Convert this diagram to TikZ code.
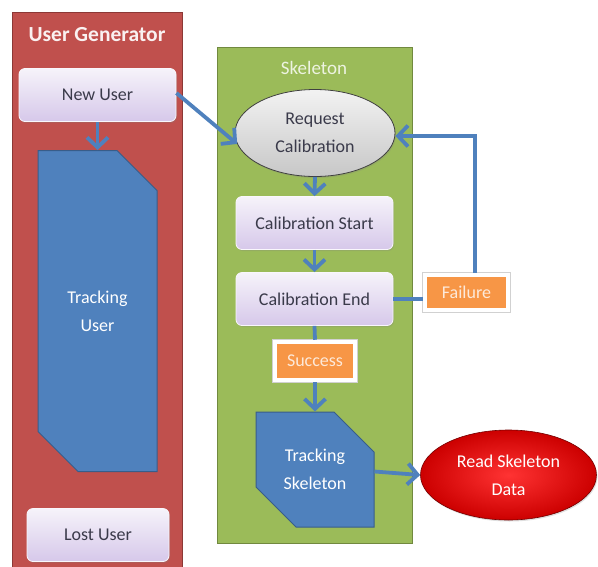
\documentclass[tikz,border=0pt]{standalone}
\usepackage{fontspec}
\setmainfont{Carlito}
\usetikzlibrary{arrows.meta,shapes.geometric,shapes.misc,shadows}
\definecolor{panelred}{HTML}{C0504D}
\definecolor{panelredline}{HTML}{8C3836}
\definecolor{panelgreen}{HTML}{9BBB59}
\definecolor{panelgreenline}{HTML}{71893F}
\definecolor{flowblue}{HTML}{4F81BD}
\definecolor{flowblueline}{HTML}{385D8A}
\definecolor{tagorange}{HTML}{F79646}
\definecolor{tagtext}{HTML}{FDE9D9}
\definecolor{boxtext}{HTML}{3A3A4A}
\definecolor{lavtop}{HTML}{F6F3FA}
\definecolor{lavbot}{HTML}{D6C8EA}
\begin{document}
\begin{tikzpicture}[x=1pt,y=-1pt,
  panel/.style={rectangle, line width=1.2pt, inner sep=0pt, anchor=north west},
  stepbox/.style={rectangle, rounded corners=6pt, draw=white!85!lavbot, line width=0.8pt,
    top color=lavtop, bottom color=lavbot, text=boxtext, font=\fontsize{18}{22}\selectfont,
    minimum width=157pt, minimum height=53pt, inner sep=0pt, drop shadow={opacity=0.25, shadow xshift=1pt, shadow yshift=-1.5pt}},
  tracker/.style={chamfered rectangle, chamfered rectangle corners={north east,south west},
    chamfered rectangle xsep=20pt, chamfered rectangle ysep=20pt, fill=flowblue,
    draw=flowblueline, line width=1pt, text=white, align=center, inner sep=0pt,
    font=\fontsize{18}{28}\selectfont},
  tag/.style={rectangle, fill=tagorange, draw=white, line width=4.5pt, text=tagtext,
    font=\fontsize{18}{22}\selectfont, inner sep=0pt,
    preaction={draw=black!18, line width=6pt},
    drop shadow={opacity=0.3, shadow xshift=1.5pt, shadow yshift=-1.5pt}},
  flow/.style={draw=flowblue, line width=3.8pt, -{Straight Barb[length=10pt,width=21pt]}},
  link/.style={draw=flowblue, line width=3.8pt},
  title/.style={font=\bfseries\fontsize{21.5}{25}\selectfont}
]
\useasboundingbox (0,0) rectangle (598,566);

% the two component panels
\begin{scope}
\clip (0,0) rectangle (598,566);
\node[panel, fill=panelred, draw=panelredline, minimum width=170pt, minimum height=560pt] (ugpanel) at (12,12) {};
\end{scope}
\node[panel, fill=panelgreen, draw=panelgreenline, minimum width=195pt, minimum height=496pt] (skpanel) at (217,47) {};
\node[title, text=white!92!panelred] (ugtitle) at (97,35) {User Generator};
\node[font=\fontsize{19}{22}\selectfont, text=white!82!panelgreen] (sktitle) at (314,68) {Skeleton};

% user generator states
\node[stepbox] (newuser) at (97.5,95) {New User};
\node[tracker, minimum width=119pt, minimum height=321pt] (trackuser) at (97.5,311) {Tracking\\User};
\node[stepbox, minimum width=142pt] (lostuser) at (98,535) {Lost User};

% skeleton states
\node[ellipse, minimum width=160pt, minimum height=87pt, inner sep=0pt,
  draw=black!75, line width=0.8pt, top color=white!95!black, bottom color=black!22,
  text=boxtext, align=center, font=\fontsize{18}{28}\selectfont,
  drop shadow={opacity=0.25, shadow xshift=1pt, shadow yshift=-1.5pt}] (reqcal) at (315,133) {Request\\Calibration};
\node[stepbox] (calstart) at (314.5,223) {Calibration Start};
\node[stepbox] (calend) at (314.5,299) {Calibration End};
\node[tag, minimum width=80pt, minimum height=38pt] (success) at (315,361) {Success};
\node[tag, minimum width=83pt, minimum height=35pt] (failure) at (466.5,292.5) {Failure};
\node[tracker, minimum width=118pt, minimum height=115pt] (trackskel) at (315,469.5) {Tracking\\Skeleton};
\node[ellipse, minimum width=176pt, minimum height=90pt, inner sep=0pt,
  draw=red!45!black, line width=0.6pt, inner color=red!80!white, outer color=red!80!black,
  text=white, align=center, font=\fontsize{18}{28}\selectfont,
  drop shadow={opacity=0.25, shadow xshift=1pt, shadow yshift=-1.5pt}] (readdata) at (508.5,475) {Read Skeleton\\Data};

% transitions
\draw[flow] (newuser.south) -- (trackuser.north);
\draw[flow] ([yshift=2pt]newuser.east) -- (reqcal.188);
\draw[flow] (reqcal.south) -- (calstart.north);
\draw[flow] (calstart.south) -- (calend.north);
\draw[link] (calend.south) -- (success.north);
\draw[link] (calend.east) -- (failure.west |- calend.east);
\draw[flow] ([xshift=8.5pt]failure.north) |- ([yshift=-3pt]reqcal.east);
\draw[flow] (success.south) -- (trackskel.north);
\draw[flow] ([yshift=-2pt]trackskel.east) -- (readdata.west);
\end{tikzpicture}
\end{document}
